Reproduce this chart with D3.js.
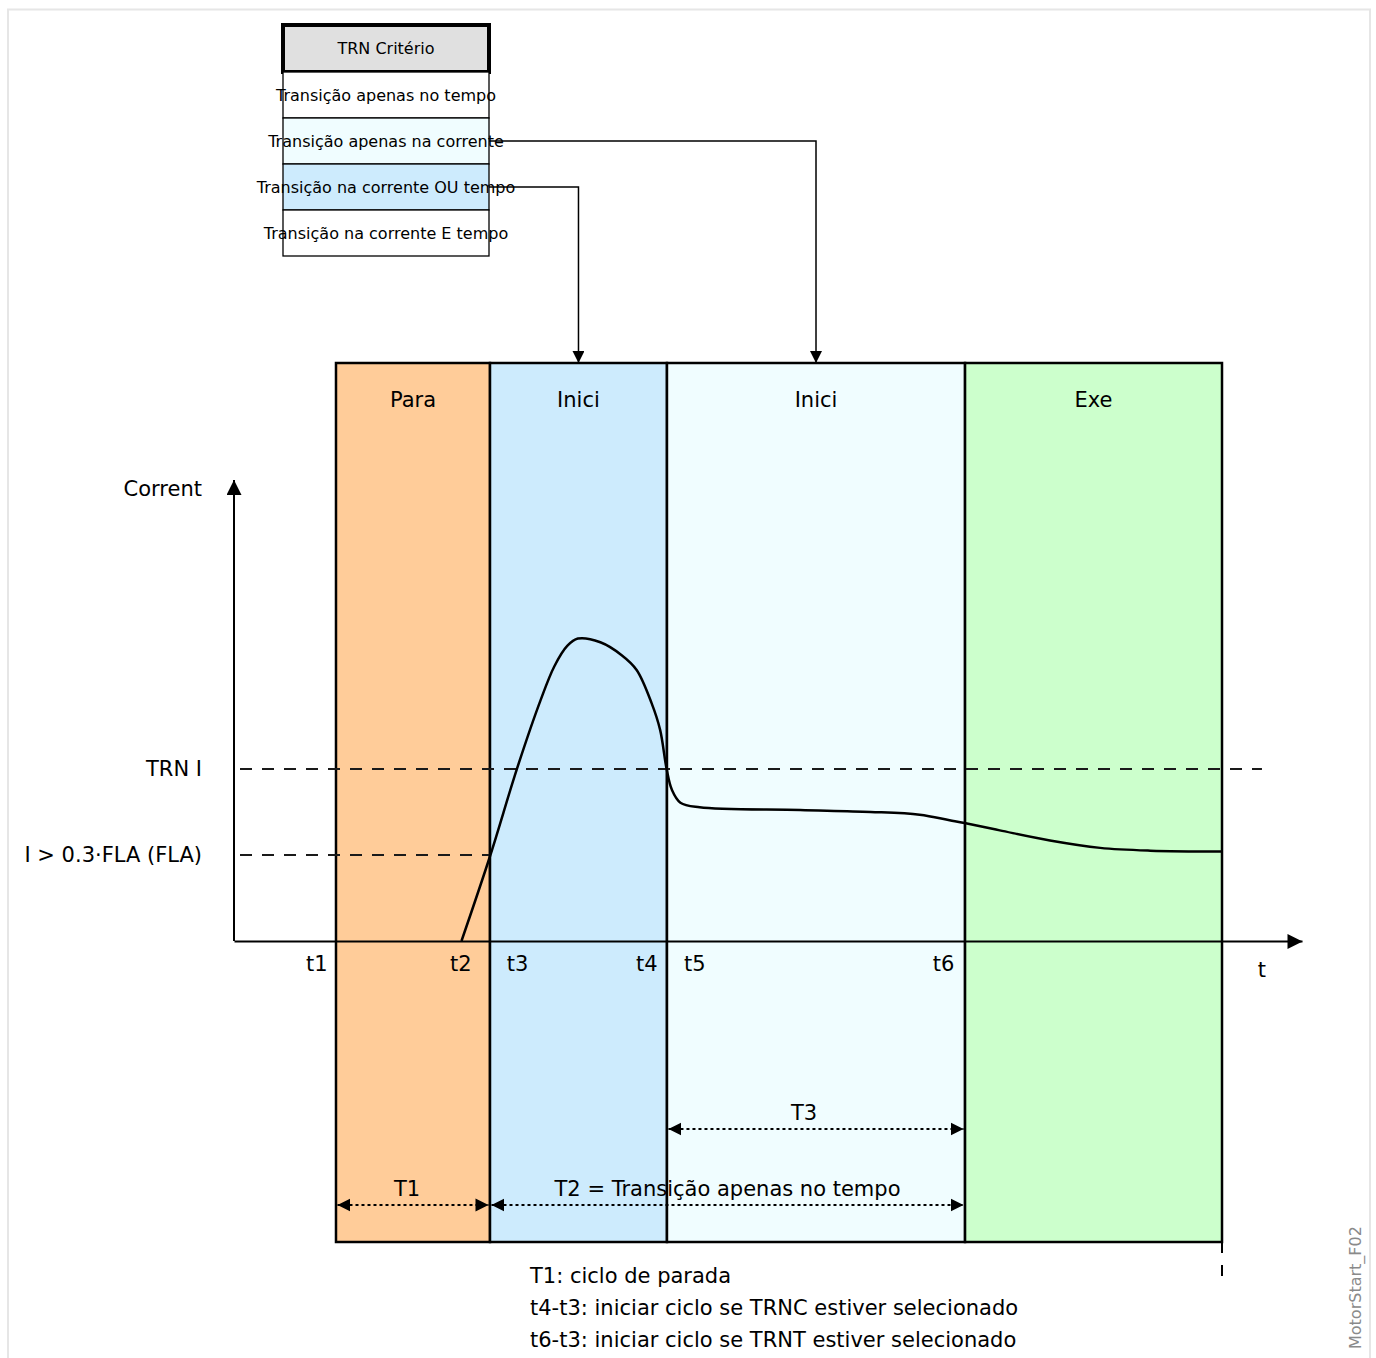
<!DOCTYPE html>
<html>
<head>
<meta charset="utf-8">
<script src="https://cdn.jsdelivr.net/npm/d3@7"></script>
<style>
  body { margin: 0; background: #fff; }
  svg { display: block; font-family: "DejaVu Sans", sans-serif; }
</style>
</head>
<body>
<div id="chart"></div>
<script>
// Data
const criteria = ["Transição apenas no tempo", "Transição apenas na corrente",
                  "Transição na corrente OU tempo", "Transição na corrente E tempo"];
const criteriaFill = ["#ffffff", "#f0fdff", "#cdebfd", "#ffffff"];
// criterion index -> phase index it points to
const links = [[1, 2], [2, 1]];

const phaseNames = ["Para", "Inici", "Inici", "Exe"];
const phaseBounds = [0.955, 2.397, 4.054, 6.845, 9.251];
const phaseFill = ["#ffcc99", "#cdebfd", "#f0fdff", "#ccffcc"];

const tickLabels = ["t1", "t2", "t3", "t4", "t5", "t6"];
const tickTimes = [0.77, 2.12, 2.65, 3.86, 4.31, 6.64];

const levelLabels = ["TRN I", "I > 0.3·FLA (FLA)"];
const levelValues = [1.866, 0.933];
const levelEnds = [9.625, 2.397];

// current curve (time in s, current in arbitrary units)
const curveT = [2.13, 2.40, 2.65, 2.87, 3.00, 3.12, 3.22, 3.43, 3.63, 3.77, 3.91, 3.99,
                4.05, 4.10, 4.18, 4.36, 5.30, 5.96, 6.42, 6.70, 6.84, 7.17, 7.64, 8.11, 8.58, 9.25];
const curveI = [0, 0.93, 1.87, 2.61, 2.98, 3.20, 3.28, 3.24, 3.10, 2.94, 2.58, 2.29,
                1.87, 1.64, 1.50, 1.45, 1.42, 1.40, 1.37, 1.31, 1.28, 1.20, 1.09, 1.01, 0.98, 0.97];

// durations: label, from phase bound, to phase bound, row
const durLabels = ["T3", "T1", "T2 = Transição apenas no tempo"];
const durFrom = [2, 0, 1];
const durTo = [3, 1, 3];
const durRow = [0, 1, 1];

const notes = ["T1: ciclo de parada",
               "t4-t3: iniciar ciclo se TRNC estiver selecionado",
               "t6-t3: iniciar ciclo se TRNT estiver selecionado"];

// Layout
const W = 1376, H = 1358;
const bandTop = 363, bandBottom = 1242;
const big = "21px", small = "16px";

const svg = d3.select("#chart").append("svg")
    .attr("width", W).attr("height", H);

const defs = svg.append("defs");
function marker(id, w, h) {
    defs.append("marker")
        .attr("id", id)
        .attr("viewBox", "0 0 10 10")
        .attr("refX", 10).attr("refY", 5)
        .attr("markerWidth", w).attr("markerHeight", h)
        .attr("markerUnits", "userSpaceOnUse")
        .attr("orient", "auto-start-reverse")
        .append("path")
        .attr("d", "M0,0L10,5L0,10Z")
        .attr("fill", "#000");
}
marker("axisArrow", 20, 15);
marker("linkArrow", 17, 12);
marker("durArrow", 13, 15);

// outer frame
svg.append("rect")
    .attr("x", 8).attr("y", 9.5)
    .attr("width", 1362).attr("height", 1360)
    .attr("fill", "none")
    .attr("stroke", "#e6e6e6")
    .attr("stroke-width", 2);

// Scales
const x = d3.scaleLinear().domain([0, 10]).range([234, 1302]);
const y = d3.scaleLinear().domain([0, 5]).range([941, 480]);

// Phase bands
const bands = svg.append("g");
phaseNames.forEach((name, i) => {
    const x0 = x(phaseBounds[i]), x1 = x(phaseBounds[i + 1]);
    bands.append("rect")
        .attr("x", x0).attr("y", bandTop)
        .attr("width", x1 - x0).attr("height", bandBottom - bandTop)
        .attr("fill", phaseFill[i])
        .attr("stroke", "#000")
        .attr("stroke-width", 2.5);
    bands.append("text")
        .attr("x", (x0 + x1) / 2).attr("y", 400)
        .attr("dy", "0.35em")
        .attr("text-anchor", "middle")
        .style("font-size", big)
        .text(name);
});

// small dashed tick under last band edge
svg.append("line")
    .attr("x1", x(phaseBounds[4])).attr("x2", x(phaseBounds[4]))
    .attr("y1", bandBottom).attr("y2", 1278)
    .attr("stroke", "#000").attr("stroke-width", 2)
    .attr("stroke-dasharray", "11,12");

// Level dashed lines
levelValues.forEach((v, i) => {
    svg.append("line")
        .attr("x1", x(0) + 6).attr("x2", x(levelEnds[i]))
        .attr("y1", y(v)).attr("y2", y(v))
        .attr("stroke", "#1a1a1a").attr("stroke-width", 2)
        .attr("stroke-dasharray", "12,10");
});

// Current curve
const line = d3.line()
    .x((d, i) => x(curveT[i]))
    .y(d => y(d))
    .curve(d3.curveCatmullRom.alpha(0.5));
svg.append("path")
    .datum(curveI)
    .attr("d", line)
    .attr("fill", "none")
    .attr("stroke", "#000")
    .attr("stroke-width", 2.5);

// X axis
const xAxis = svg.append("g")
    .attr("transform", `translate(0,${y(0)})`)
    .call(d3.axisBottom(x)
        .tickValues(tickTimes)
        .tickFormat((d, i) => tickLabels[i])
        .tickSize(0).tickSizeOuter(0)
        .tickPadding(15));
xAxis.select(".domain")
    .attr("stroke", "#000").attr("stroke-width", 2)
    .attr("marker-end", "url(#axisArrow)");
xAxis.selectAll("text")
    .attr("fill", "#000")
    .style("font-size", big)
    .style("font-family", "DejaVu Sans, sans-serif");

svg.append("text")
    .attr("x", x(9.625)).attr("y", 970)
    .attr("dy", "0.35em")
    .attr("text-anchor", "middle")
    .style("font-size", big)
    .text("t");

// Y axis
const yAxis = svg.append("g")
    .attr("transform", `translate(${x(0)},0)`)
    .call(d3.axisLeft(y)
        .tickValues(levelValues)
        .tickFormat((d, i) => levelLabels[i])
        .tickSize(0).tickSizeOuter(0)
        .tickPadding(32));
yAxis.select(".domain")
    .attr("d", `M0,${y(0)}V${y(5)}`)
    .attr("stroke", "#000").attr("stroke-width", 2)
    .attr("marker-end", "url(#axisArrow)");
yAxis.selectAll("text")
    .attr("fill", "#000")
    .style("font-size", big)
    .style("font-family", "DejaVu Sans, sans-serif");

svg.append("text")
    .attr("x", x(0) - 32).attr("y", 489)
    .attr("dy", "0.35em")
    .attr("text-anchor", "end")
    .style("font-size", big)
    .text("Corrent");

// Duration arrows
const durY = [1129, 1205];
durLabels.forEach((lab, i) => {
    const x0 = x(phaseBounds[durFrom[i]]) + 1.5, x1 = x(phaseBounds[durTo[i]]) - 1.5;
    const yy = durY[durRow[i]];
    svg.append("line")
        .attr("x1", x0).attr("x2", x1)
        .attr("y1", yy).attr("y2", yy)
        .attr("stroke", "#000").attr("stroke-width", 2)
        .attr("stroke-dasharray", "3,3")
        .attr("marker-start", "url(#durArrow)")
        .attr("marker-end", "url(#durArrow)");
    svg.append("text")
        .attr("x", (x0 + x1) / 2 - (i === 0 ? 12 : i === 1 ? 6 : 0)).attr("y", yy - 16)
        .attr("dy", "0.35em")
        .attr("text-anchor", "middle")
        .style("font-size", big)
        .text(lab);
});

// Criteria table
const tbl = {x: 283, w: 206, headTop: 25, headH: 47, rowH: 46};
const table = svg.append("g");
table.append("rect")
    .attr("x", tbl.x).attr("y", tbl.headTop)
    .attr("width", tbl.w).attr("height", tbl.headH)
    .attr("fill", "#e0e0e0")
    .attr("stroke", "#000").attr("stroke-width", 4);
table.append("text")
    .attr("x", tbl.x + tbl.w / 2).attr("y", tbl.headTop + tbl.headH / 2)
    .attr("dy", "0.35em")
    .attr("text-anchor", "middle")
    .style("font-size", small)
    .text("TRN Critério");

const rowY = i => tbl.headTop + tbl.headH + i * tbl.rowH;
criteria.forEach((c, i) => {
    table.append("rect")
        .attr("x", tbl.x).attr("y", rowY(i))
        .attr("width", tbl.w).attr("height", tbl.rowH)
        .attr("fill", criteriaFill[i])
        .attr("stroke", "#000").attr("stroke-width", 1.3);
});
criteria.forEach((c, i) => {
    table.append("text")
        .attr("x", tbl.x + tbl.w / 2).attr("y", rowY(i) + tbl.rowH / 2)
        .attr("dy", "0.35em")
        .attr("text-anchor", "middle")
        .style("font-size", small)
        .text(c);
});

// Connectors
links.forEach(([ci, pi]) => {
    const yy = rowY(ci) + tbl.rowH / 2;
    const xc = (x(phaseBounds[pi]) + x(phaseBounds[pi + 1])) / 2;
    svg.append("path")
        .attr("d", `M${tbl.x + tbl.w},${yy}H${xc}V${bandTop}`)
        .attr("fill", "none")
        .attr("stroke", "#000").attr("stroke-width", 1.5)
        .attr("marker-end", "url(#linkArrow)");
});

// Notes
notes.forEach((n, i) => {
    svg.append("text")
        .attr("x", 530).attr("y", 1276 + i * 32)
        .attr("dy", "0.35em")
        .style("font-size", big)
        .text(n);
});

// Figure id
svg.append("text")
    .attr("transform", "translate(1355,1349) rotate(-90)")
    .attr("dy", "0.35em")
    .attr("fill", "#8a8a8a")
    .style("font-size", small)
    .text("MotorStart_F02");
</script>
</body>
</html>
